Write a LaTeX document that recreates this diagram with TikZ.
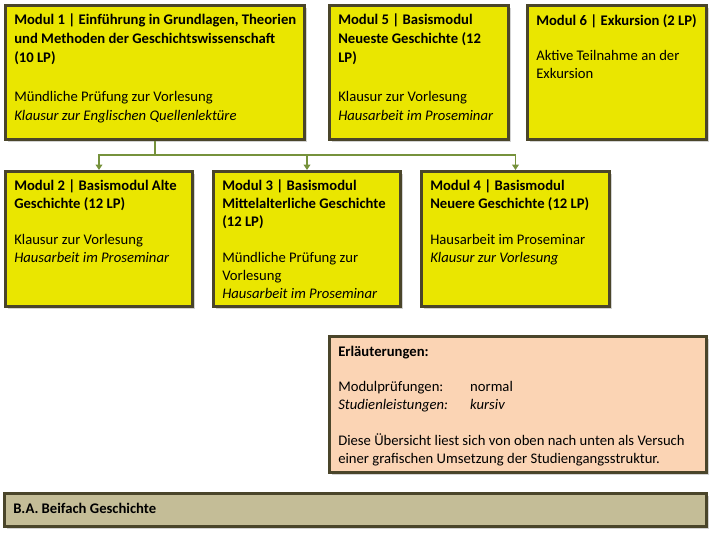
\documentclass[tikz,border=0pt]{standalone}
\usepackage{fontspec}
\setmainfont{Carlito}
\usetikzlibrary{positioning,shadows,arrows.meta}

\definecolor{rahmen}{RGB}{74,69,42}
\definecolor{modulgelb}{RGB}{234,230,0}
\definecolor{lachs}{RGB}{251,212,180}
\definecolor{sand}{RGB}{196,189,151}
\definecolor{pfeilgruen}{RGB}{118,146,60}

\tikzset{
  kasten/.style={draw=rahmen, line width=2.25pt, anchor=north west, inner sep=0pt,
    drop shadow={shadow xshift=2pt, shadow yshift=-2pt, opacity=0.35}},
  modul/.style={kasten, fill=modulgelb},
  masse/.style 2 args={minimum width=#1*0.75pt, minimum height=#2*0.75pt},
  inhalt/.style={anchor=north west, inner sep=0pt, align=left, text=black,
    font=\fontsize{11pt}{13.4pt}\selectfont},
  inhaltweit/.style={inhalt, font=\fontsize{11pt}{14.25pt}\selectfont},
  verbindung/.style={draw=pfeilgruen, line width=1.1pt},
  pfeil/.style={verbindung, -{Triangle[width=5pt,length=4pt]}}
}

\begin{document}
\begin{tikzpicture}[x=0.75pt, y=-0.75pt]
            \useasboundingbox (0,0) rectangle (717,538);

            % Obere Reihe
            \node[modul, masse={299}{134}] (m1) at (4,4) {};
            \node[modul, masse={179}{134}] (m5) at (328,4) {};
            \node[modul, masse={179}{134}] (m6) at (526,4) {};

            % Basismodule
            \node[modul, masse={187}{135}] (m2) at (4,170) {};
            \node[modul, masse={187}{135}] (m3) at (212,170) {};
            \node[modul, masse={188}{135}] (m4) at (420,170) {};

            % Legende und Fach
            \node[kasten, fill=lachs, masse={377}{136}] (erl) at (328,335) {};
            \node[kasten, fill=sand, masse={702}{33}] (ba) at (3,492) {};

            % Texte
            \node[inhaltweit, below right=7.5pt and 7.5pt of m1.north west] (m1text)
              {\textbf{Modul 1 | Einführung in Grundlagen, Theorien}\\
               \textbf{und Methoden der Geschichtswissenschaft}\\
               \textbf{(10 LP)}\\[15pt]
               Mündliche Prüfung zur Vorlesung\\
               \textit{Klausur zur Englischen Quellenlektüre}};
            \node[inhaltweit, below right=7.5pt and 7.5pt of m5.north west] (m5text)
              {\textbf{Modul 5 | Basismodul}\\
               \textbf{Neueste Geschichte (12}\\
               \textbf{LP)}\\[15pt]
               Klausur zur Vorlesung\\
               \textit{Hausarbeit im Proseminar}};
            \node[inhalt, below right=7.5pt and 7.5pt of m6.north west] (m6text)
              {\textbf{Modul 6 | Exkursion (2 LP)}\\[13.4pt]
               Aktive Teilnahme an der\\
               Exkursion};
            \node[inhalt, below right=7.5pt and 7.5pt of m2.north west] (m2text)
              {\textbf{Modul 2 | Basismodul Alte}\\
               \textbf{Geschichte (12 LP)}\\[13.4pt]
               Klausur zur Vorlesung\\
               \textit{Hausarbeit im Proseminar}};
            \node[inhalt, below right=7.5pt and 7.5pt of m3.north west] (m3text)
              {\textbf{Modul 3 | Basismodul}\\
               \textbf{Mittelalterliche Geschichte}\\
               \textbf{(12 LP)}\\[13.4pt]
               Mündliche Prüfung zur\\
               Vorlesung\\
               \textit{Hausarbeit im Proseminar}};
            \node[inhalt, below right=7.5pt and 7.5pt of m4.north west] (m4text)
              {\textbf{Modul 4 | Basismodul}\\
               \textbf{Neuere Geschichte (12 LP)}\\[13.4pt]
               Hausarbeit im Proseminar\\
               \textit{Klausur zur Vorlesung}};
            \node[inhalt, below right=8pt and 7.5pt of erl.north west] (erltext)
              {\textbf{Erläuterungen:}\\[13.4pt]
               \makebox[99pt][l]{Modulprüfungen:}normal\\
               \makebox[99pt][l]{\textit{Studienleistungen:}}\textit{kursiv}\\[13.4pt]
               Diese Übersicht liest sich von oben nach unten als Versuch\\
               einer grafischen Umsetzung der Studiengangsstruktur.};
            \node[inhalt, below right=8pt and 7.5pt of ba.north west] (batext)
              {\textbf{B.A. Beifach Geschichte}};

            % Verbindungen
            \coordinate[below=10.5pt of m1.south] (verteiler);
            \draw[verbindung] (m1.south) -- (verteiler);
            \draw[pfeil] (verteiler) -| (m2.north);
            \draw[pfeil] (verteiler) -| (m3.north);
            \draw[pfeil] (verteiler) -| (m4.north);
\end{tikzpicture}
\end{document}
